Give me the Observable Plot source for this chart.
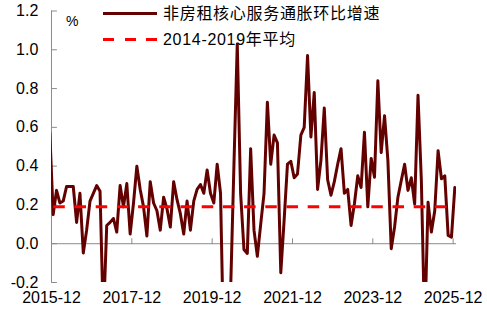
<!DOCTYPE html>
<html><head><meta charset="utf-8">
<script src="https://cdn.jsdelivr.net/npm/d3@7"></script>
<script src="https://cdn.jsdelivr.net/npm/@observablehq/plot@0.6"></script>
<style>
body{margin:0;background:#fff;}
#wrap{position:relative;width:487px;height:318px;font-family:"Liberation Sans",Arial,"Noto Sans CJK SC",sans-serif;color:#000;}
#wrap svg{position:absolute;left:0;top:0;font-family:"Liberation Sans",Arial,"Noto Sans CJK SC",sans-serif;}
g[aria-label="ylabels"] text{letter-spacing:2.3px;}
.lg{position:absolute;font-size:16px;line-height:20px;letter-spacing:0.7px;white-space:nowrap;}
.sw{position:absolute;height:3px;width:54px;left:103px;}
</style></head><body><div id="wrap"></div>
<script>
// monthly values, first value = 2015-11 (clipped at the left edge), last = 2025-12
const firstMonth = "2015-11";
const superCoreMoM = [0.57,
  0.15, 0.275, 0.21, 0.22, 0.295, 0.295, 0.295, 0.11, 0.26, -0.048,
  0.07, 0.22, 0.26, 0.30, 0.27, -0.4, 0.094, 0.11, 0.13, 0.06,
  0.30, 0.19, 0.31, 0.05, 0.21, 0.40, 0.28, 0.19, 0.04, 0.32,
  0.21, 0.17, 0.07, 0.24, 0.18, 0.086, 0.32, 0.227, 0.155, 0.05,
  0.22, 0.07, 0.22, 0.28, 0.305, 0.26, 0.38, 0.26, 0.21, 0.41,
  0.26, -0.6, -0.9, -0.25, 0.40, 1.03, 0.26, -0.03, -0.05, 0.49,
  0.07, -0.065, 0.10, 0.26, 0.73, 0.41, 0.56, 0.52, -0.15, 0.12,
  0.41, 0.425, 0.34, 0.36, 0.56, 0.60, 0.97, 0.55, 0.78, 0.28,
  0.43, 0.70, 0.33, 0.25, 0.32, 0.41, 0.49, 0.26, 0.28, 0.094,
  0.206, 0.35, 0.29, 0.575, 0.19, 0.44, 0.343, 0.84, 0.47, 0.66,
  0.43, -0.026, 0.086, 0.24, 0.326, 0.41, 0.275, 0.34, 0.205, 0.765,
  0.326, -0.45, 0.214, 0.06, 0.17, 0.48, 0.335, 0.35, 0.043, 0.034,
  0.29];
const avg2014to2019 = 0.19;
const xTickLabels = ["2015-12","2017-12","2019-12","2021-12","2023-12","2025-12"];
const yTicks = [-0.2, 0, 0.2, 0.4, 0.6, 0.8, 1.0, 1.2];
const seriesNames = ["非房租核心服务通胀环比增速", "2014-2019年平均"];
const unitLabel = "%";

const lineColor = "#630000", avgColor = "#ff0000", axisColor = "#8c8c8c";

// month offset relative to 2015-12 (axis origin)
function monthOffset(s){ const [y,m] = s.split("-").map(Number); return (y-2015)*12 + (m-12); }
const f0 = monthOffset(firstMonth);
const data = superCoreMoM.map((v,j)=>({t: f0 + j + 0.5, v}));
const tickPos = xTickLabels.map(monthOffset);
const xEnd = monthOffset("2025-12") + 1;

const tickShape = {draw(ctx, l){ ctx.moveTo(0,0); ctx.lineTo(0,-l); }};

const chart = Plot.plot({
  width: 487, height: 318,
  marginLeft: 51, marginRight: 31, marginTop: 10.5, marginBottom: 36,
  x: {domain: [0, xEnd], axis: null},
  y: {domain: [-0.2, 1.2], axis: null},
  style: {background: "transparent", overflow: "visible"},
  marks: [
    Plot.ruleY([0], {stroke: axisColor, strokeWidth: 1}),
    Plot.ruleX([0], {stroke: axisColor, strokeWidth: 1}),
    Plot.vector(tickPos.slice(1), {x: d=>d, y: 0, length: 5, rotate: 0, anchor: "start", shape: tickShape, stroke: axisColor, strokeWidth: 1}),
    Plot.vector(yTicks, {y: d=>d, frameAnchor: "left", length: 5, rotate: 90, anchor: "start", shape: tickShape, stroke: axisColor, strokeWidth: 1}),
    Plot.text(yTicks, {y: d=>d, frameAnchor: "left", text: d=>d.toFixed(1), textAnchor: "end", dx: -13.2, fontSize: 16, fill: "#000", ariaLabel: "ylabels"}),
    Plot.text(xTickLabels, {x: (d,i)=>tickPos[i], frameAnchor: "bottom", text: d=>d, dy: 20.5, fontSize: 16, fill: "#000"}),
    Plot.line(data, {x: "t", y: "v", stroke: lineColor, strokeWidth: 3, clip: true}),
    Plot.ruleY([avg2014to2019], {stroke: avgColor, strokeWidth: 3, strokeDasharray: "11.5,9.7", strokeDashoffset: 18.9})
  ]
});
const wrap = document.getElementById("wrap");
wrap.appendChild(chart);

// legend and unit label
function addDiv(cls, css, html){ const d = document.createElement("div"); d.className = cls; d.style.cssText = css; if (html) d.textContent = html; wrap.appendChild(d); }
addDiv("sw", `top:11.8px;background:${lineColor};`);
addDiv("sw", `top:37.8px;background:repeating-linear-gradient(to right, ${avgColor} 0 11.5px, transparent 11.5px 21.7px);`);
addDiv("lg", "left:163px;top:3.7px;", seriesNames[0]);
addDiv("lg", "left:163px;top:29.7px;", seriesNames[1]);
addDiv("lg", "left:66px;top:10.5px;font-size:14px;letter-spacing:0;", unitLabel);
</script></body></html>
